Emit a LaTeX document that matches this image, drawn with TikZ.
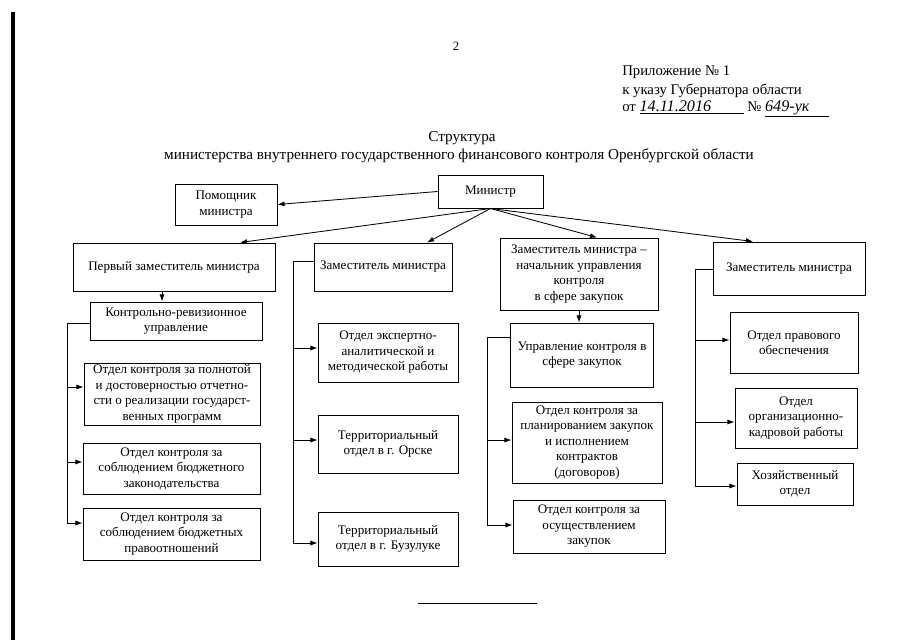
\documentclass[tikz,border=0pt]{standalone}
\usepackage{fontspec}
\setmainfont{Liberation Serif}
\usetikzlibrary{arrows.meta}
\tikzset{wh/.style 2 args={minimum width=#1*0.025cm,minimum height=#2*0.025cm}}
\begin{document}
\begin{tikzpicture}[x=0.025cm,y=-0.025cm]
\tikzstyle{every node}+=[inner sep=0pt]
\tikzstyle{box}=[draw=black,line width=0.7pt,align=center,font=\fontsize{9.3}{11}\selectfont]
\tikzstyle{arr}=[-{Latex[length=5pt,width=3.6pt]},line width=0.6pt]
\useasboundingbox (0,0) rectangle (905,640);
\draw [line width=2.2pt] (13,12) -- (13,640);
\node (pnum) at (456,46) {\fontsize{9}{10}\selectfont 2};
\node [anchor=base west] (app1) at (622,75) {\fontsize{10.5}{13}\selectfont Приложение № 1};
\node [anchor=base west] (app2) at (622,94) {\fontsize{10.5}{13}\selectfont к указу Губернатора области};
\node [anchor=base west] (app3) at (622,111) {\fontsize{10.5}{13}\selectfont от \underline{\makebox[2.6cm][l]{\fontsize{11.5}{13}\selectfont\itshape 14.11.2016}}\ № \underline{\makebox[1.6cm][l]{\fontsize{11.5}{13}\selectfont\itshape 649-ук}}};
\node (ttl1) at (462,138) {\fontsize{10.8}{13}\selectfont Структура};
\node (ttl2) at (459,156) {\fontsize{10.8}{13}\selectfont министерства внутреннего государственного финансового контроля Оренбургской области};
% top level
\node [box,wh={105}{33}] (min) at (490.5,191.5) {Министр};
\node [box,wh={102}{41}] (helper) at (226,204.5) {Помощник\\министра};
\node [box,wh={202}{48}] (dep1) at (174,267) {Первый заместитель министра};
\node [box,wh={138}{48}] (dep2) at (383,267) {Заместитель министра};
\node [box,wh={158}{72}] (dep3) at (579,274) {Заместитель министра –\\начальник управления\\контроля\\в сфере закупок};
\node [box,wh={152}{53}] (dep4) at (789,268.5) {Заместитель министра};
% column 1
\node [box,wh={172}{38}] (kru) at (176,321) {Контрольно-ревизионное\\управление};
\node [box,wh={176}{62}] (c1a) at (172,394) {Отдел контроля за полнотой\\и достоверностью отчетно-\\сти о реализации государст-\\венных программ};
\node [box,wh={177}{51}] (c1b) at (171.5,468.5) {Отдел контроля за\\соблюдением бюджетного\\законодательства};
\node [box,wh={177}{52}] (c1c) at (171.5,534) {Отдел контроля за\\соблюдением бюджетных\\правоотношений};
% column 2
\node [box,wh={140}{59}] (c2a) at (388,352.5) {Отдел экспертно-\\аналитической и\\методической работы};
\node [box,wh={140}{58}] (c2b) at (388,444) {Территориальный\\отдел в г. Орске};
\node [box,wh={140}{54}] (c2c) at (388,539) {Территориальный\\отдел в г. Бузулуке};
% column 3
\node [box,wh={143}{64}] (upr) at (582,355) {Управление контроля в\\сфере закупок};
\node [box,wh={150}{81}] (c3a) at (587,442.5) {Отдел контроля за\\планированием закупок\\и исполнением\\контрактов\\(договоров)};
\node [box,wh={152}{53}] (c3b) at (589,526.5) {Отдел контроля за\\осуществлением\\закупок};
% column 4
\node [box,wh={128}{61}] (c4a) at (794,342.5) {Отдел правового\\обеспечения};
\node [box,wh={122}{60}] (c4b) at (796,418) {Отдел\\организационно-\\кадровой работы};
\node [box,wh={116}{42}] (c4c) at (795,484) {Хозяйственный\\отдел};
% arrows from the minister
\draw [arr] (min.west) -- (helper.east);
\draw [arr] (min.south) -- (240,0 |- dep1.north);
\draw [arr] (min.south) -- (427,0 |- dep2.north);
\draw [arr] (min.south) -- (597,0 |- dep3.north);
\draw [arr] (min.south) -- (753,0 |- dep4.north);
\draw [arr] (162,0 |- dep1.south) -- (162,0 |- kru.north);
\draw [arr] (dep3.south) -- (dep3.south |- upr.north);
% trunks
\draw [line width=0.6pt] (kru.west |- 0,323) -| (67,523);
\foreach \y/\n in {387/c1a,462/c1b,523/c1c}
  \draw [arr] (67,\y) -- (\n.west |- 67,\y);
\draw [line width=0.6pt] (dep2.west |- 0,261) -| (293,543);
\foreach \y/\n in {348/c2a,440/c2b,543/c2c}
  \draw [arr] (293,\y) -- (\n.west |- 293,\y);
\draw [line width=0.6pt] (upr.west |- 0,337) -| (487,525);
\foreach \y/\n in {440/c3a,525/c3b}
  \draw [arr] (487,\y) -- (\n.west |- 487,\y);
\draw [line width=0.6pt] (dep4.west |- 0,269) -| (695,486);
\foreach \y/\n in {340/c4a,422/c4b,486/c4c}
  \draw [arr] (695,\y) -- (\n.west |- 695,\y);
\draw [line width=0.6pt] (418,603) -- (537,603);
\end{tikzpicture}
\end{document}
